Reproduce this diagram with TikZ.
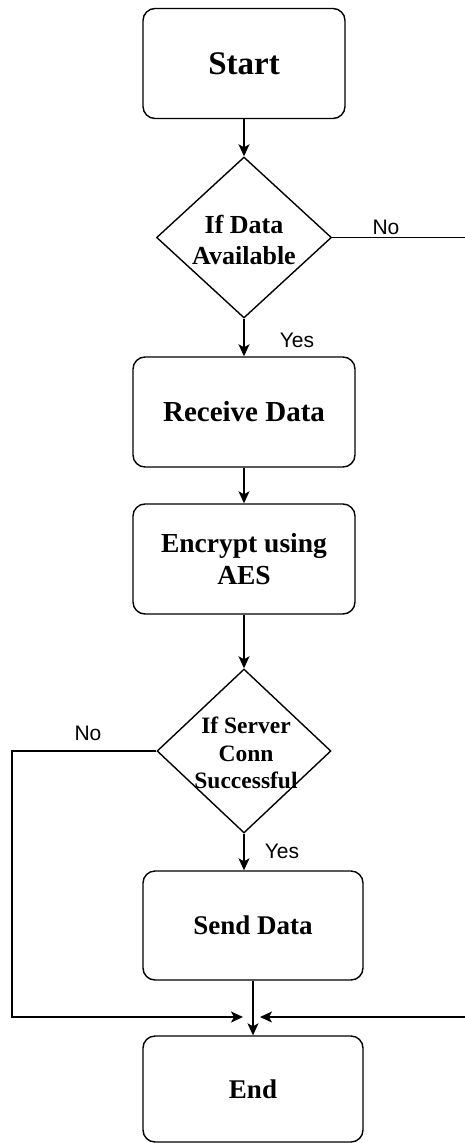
\documentclass[tikz,border=0pt]{standalone}
\usepackage{fontspec}
\setmainfont{Liberation Serif}
\newfontfamily\labfont{Liberation Sans}
\usetikzlibrary{shapes.geometric,arrows.meta}
\begin{document}
\begin{tikzpicture}[x=1pt,y=-1pt,
  box/.style={draw, rounded corners=12pt, line width=1.4pt, inner sep=0pt, align=center},
  dec/.style={draw, diamond, line width=1.4pt, inner sep=0pt},
  dtext/.style={align=center, inner sep=0pt},
  lab/.style={font=\labfont\fontsize{21}{24}\selectfont, inner sep=0pt},
  conn/.style={line width=1.4pt, -{Stealth[length=12pt,width=11pt,inset=3pt]}},
  plainline/.style={line width=1.4pt}]
\useasboundingbox (0,0) rectangle (464,1143);
% nodes
\node[box, minimum width=202pt, minimum height=110pt,
      font=\bfseries\fontsize{33}{38}\selectfont] (start) at (244,63.5) {Start};
\node[dec, minimum width=175pt, minimum height=161pt] (d1) at (244,237.5) {};
\node[dtext, font=\bfseries\fontsize{26}{31}\selectfont] (d1t) at (244,240) {If Data\\Available};
\node[box, minimum width=222pt, minimum height=110pt,
      font=\bfseries\fontsize{29}{34}\selectfont] (recv) at (244,412) {Receive Data};
\node[box, minimum width=222pt, minimum height=110pt,
      font=\bfseries\fontsize{27.5}{32}\selectfont] (enc) at (244,559) {Encrypt using\\AES};
\node[dec, minimum width=174pt, minimum height=164pt] (d2) at (244,751) {};
\node[dtext, font=\bfseries\fontsize{23.5}{27.5}\selectfont] (d2t) at (246,753) {If Server\\Conn\\Successful};
\node[box, minimum width=220pt, minimum height=109pt,
      font=\bfseries\fontsize{27}{32}\selectfont] (send) at (253,925.5) {Send Data};
\node[box, minimum width=220pt, minimum height=106pt,
      font=\bfseries\fontsize{27}{32}\selectfont] (end) at (253,1089) {End};
% helper coordinates
\coordinate (rb) at (467,1017);
\coordinate (lb) at (12,1017);
\coordinate (jr) at (260,1017);
\coordinate (jl) at (243,1017);
% connectors
\draw[conn] (start) -- (d1);
\draw[conn] (d1.south) -- (d1.south |- recv.north);
\draw[conn] (recv) -- (enc);
\draw[conn] (enc) -- (d2);
\draw[conn] (d2.south) -- (d2.south |- send.north);
\draw[conn] (send) -- (end);
\draw[conn] (d1.east) -- (d1.east -| rb) -- (rb) -- (jr);
\draw[conn] (d2.west) -- (d2.west -| lb) -- (lb) -- (jl);
% labels
\node[lab] (no1) at (386,227) {No};
\node[lab] (yes1) at (297,340) {Yes};
\node[lab] (no2) at (88,733) {No};
\node[lab] (yes2) at (282,851) {Yes};
\end{tikzpicture}
\end{document}
